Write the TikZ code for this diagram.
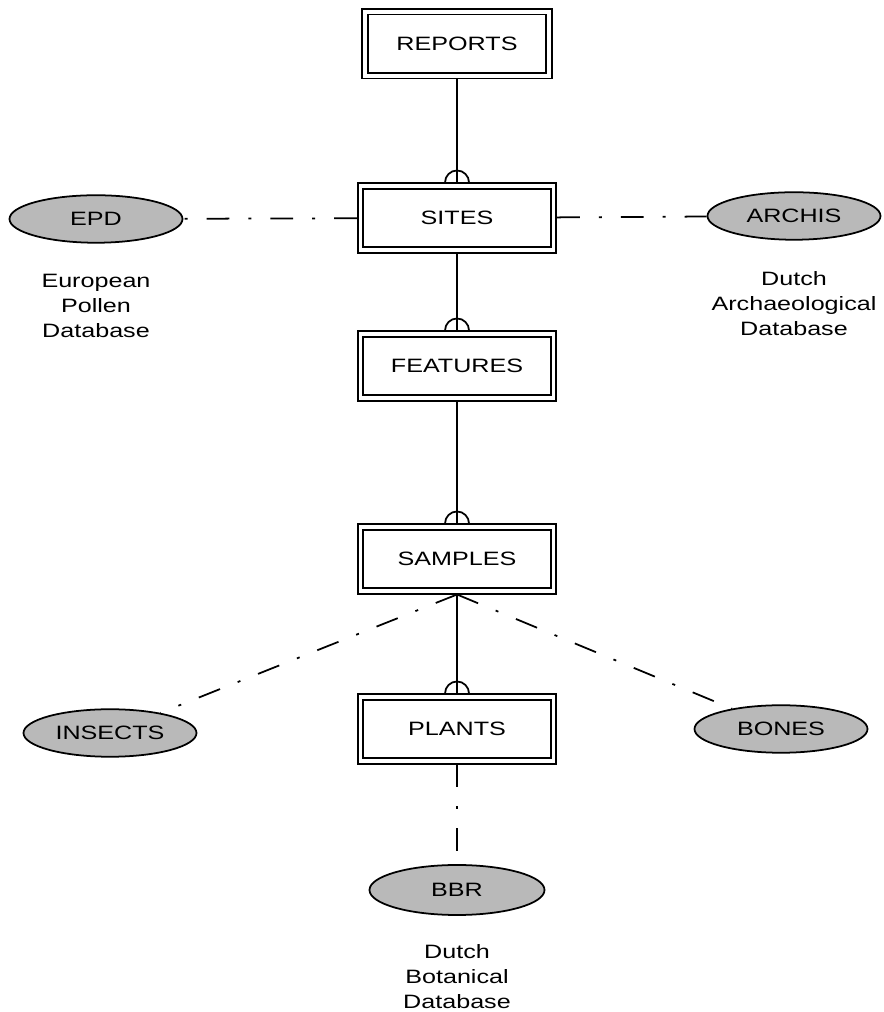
\documentclass[tikz,border=0pt]{standalone}
\usepackage{fontspec}
\setmainfont{Liberation Sans}[FakeStretch=1.3]
\usepackage{tikz}
\usetikzlibrary{shapes.geometric}

\begin{document}
\begin{tikzpicture}[entity/.style={rectangle, draw, double, double distance=2.2pt, line width=0.9pt, outer sep=2pt, minimum width=3.86cm, minimum height=1.28cm, font=\fontsize{11}{13}\selectfont}, database/.style={ellipse, draw, line width=1pt, fill=gray!55, minimum width=3.46cm, minimum height=0.95cm, inner sep=0pt, font=\fontsize{11}{13}\selectfont}, note/.style={align=center, font=\fontsize{11}{14.2}\selectfont}, line/.style={line width=1pt}, dashline/.style={line width=1pt, dash pattern=on 13pt off 10.8pt on 1.7pt off 10.8pt}]
\useasboundingbox (0,0) rectangle (17.66,20.24);
\node [entity, minimum width=3.68cm] (reports) at (9.14,19.36) {REPORTS};
\node [entity] (sites) at (9.14,15.88) {SITES};
\node [entity] (features) at (9.14,12.92) {FEATURES};
\node [entity] (samples) at (9.14,9.06) {SAMPLES};
\node [entity] (plants) at (9.14,5.66) {PLANTS};
\node [database] (epd) at (1.92,15.86) {EPD};
\node [database] (archis) at (15.88,15.92) {ARCHIS};
\node [database] (insects) at (2.2,5.58) {INSECTS};
\node [database] (bones) at (15.62,5.66) {BONES};
\node [database, minimum width=3.5cm, minimum height=1cm] (bbr) at (9.14,2.44) {BBR};
\node [note] (epdtext) at (1.92,14.12) {European\\Pollen\\Database};
\node [note] (archistext) at (15.88,14.16) {Dutch\\Archaeological\\Database};
\node [note] (bbrtext) at (9.14,0.7) {Dutch\\Botanical\\Database};
\draw [line] (reports) -- (sites);
\draw [line] ([xshift=-0.24cm]sites.north) arc [start angle=180, end angle=0, radius=0.24cm];
\draw [line] (sites) -- (features);
\draw [line] ([xshift=-0.24cm]features.north) arc [start angle=180, end angle=0, radius=0.24cm];
\draw [line] (features) -- (samples);
\draw [line] ([xshift=-0.24cm]samples.north) arc [start angle=180, end angle=0, radius=0.24cm];
\draw [line] (samples) -- (plants);
\draw [line] ([xshift=-0.24cm]plants.north) arc [start angle=180, end angle=0, radius=0.24cm];
\draw [dashline] (sites) -- (epd);
\draw [dashline] (sites) -- (archis);
\draw [dashline] (samples.south) -- (insects);
\draw [dashline] (samples.south) -- (bones);
\draw [dashline] (plants) -- (bbr);
\end{tikzpicture}
\end{document}
